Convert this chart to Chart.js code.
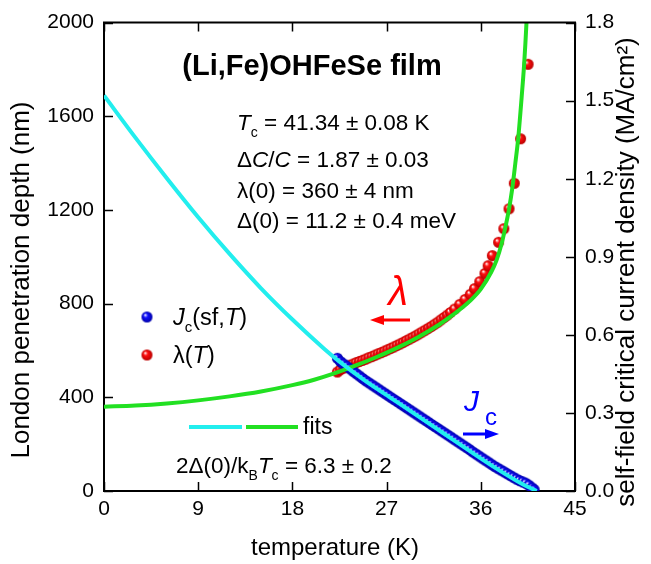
<!DOCTYPE html>
<html><head><meta charset="utf-8">
<script src="https://cdn.jsdelivr.net/npm/chart.js@4.4.1/dist/chart.umd.min.js"></script>
<style>html,body{margin:0;padding:0;background:#fff;}canvas{display:block;}</style>
</head><body>
<canvas id="c" width="651" height="564"></canvas>
<script>
const FONT = "'Liberation Sans', Arial, sans-serif";

// tick labels
const tempTicks = [0, 9, 18, 27, 36, 45];
const lambdaTicks = [0, 400, 800, 1200, 1600, 2000];
const jcTicks = [0, 0.3, 0.6, 0.9, 1.2, 1.5, 1.8];

// lambda(T) data (nm)
const lambdaT = [22.3,22.6,22.9,23.2,23.5,23.8,24.1,24.4,24.7,25.0,25.3,25.6,25.9,26.2,26.5,26.8,27.1,27.4,27.7,28.0,
  28.3,28.6,28.9,29.2,29.5,29.8,30.1,30.4,30.7,31.0,31.3,31.6,31.9,32.2,32.5,32.8,33.1,33.5,34.0,34.5,35.0,35.4,35.9,
  36.4,36.7,37.1,37.7,38.2,38.7,39.2,39.8,40.52];
const lambdaVal = [508,518,525,531,537,542,548,553,558,563,569,574,580,586,591,597,603,609,615,622,
  628,635,642,649,656,663,671,679,687,695,703,712,721,731,741,751,762,777,797,818,840,864,894,
  929,962,1005,1062,1120,1205,1314,1504,1822];

// Jc(sf,T) data (MA/cm^2)
const jcT = [22.3,22.6,22.9,23.2,23.5,23.8,24.1,24.4,24.7,25.0,25.3,25.6,25.9,26.2,26.5,26.8,27.1,27.4,27.7,28.0,
  28.3,28.6,28.9,29.2,29.5,29.8,30.1,30.4,30.7,31.0,31.3,31.6,31.9,32.2,32.5,32.8,33.1,33.4,33.7,34.0,
  34.3,34.6,34.9,35.2,35.5,35.8,36.1,36.4,36.7,37.0,37.3,37.6,37.9,38.2,38.5,38.8,39.1,39.4,39.7,40.0,
  40.3,40.6,40.9,41.1];
const jcVal = [0.510,0.497,0.488,0.479,0.470,0.460,0.451,0.442,0.433,0.424,0.416,0.408,0.400,0.392,0.384,0.376,0.368,0.360,0.352,0.344,
  0.336,0.328,0.320,0.312,0.304,0.296,0.288,0.280,0.272,0.264,0.256,0.248,0.240,0.232,0.224,0.216,0.208,0.200,0.192,0.184,
  0.176,0.168,0.160,0.151,0.143,0.135,0.127,0.119,0.111,0.103,0.095,0.088,0.081,0.074,0.067,0.060,0.053,0.046,0.040,0.035,
  0.030,0.022,0.012,0.005];

// fit curves
const lambdaFitT = [0,3,6,9,12,15,18,20,22,24,26,28,30,32,33,34,35,36,37,37.5,38,38.3,38.7,39.0,39.3,39.57,39.9,40.14,40.36,40.6];
const lambdaFitVal = [360,365,374,387,404,425,452,474,502,535,571,611,657,710,741,775,813,862,935,985,1058,1116,1205,1290,1400,1504,1680,1822,1996,2250];
const jcFitT = [0,3,6,9,12,15,18,21,22.5,25,27.5,30,32.5,35,37.5,40,41.34];
const jcFitVal = [1.52,1.358,1.202,1.052,0.911,0.779,0.659,0.548,0.497,0.422,0.355,0.288,0.220,0.152,0.086,0.026,0];

const toXY = (xs, ys) => xs.map((v, i) => ({x: v, y: ys[i]}));

function sphere(base, dark, r) {
  const s = Math.ceil(r * 2) + 2;
  const c = document.createElement('canvas');
  c.width = s; c.height = s;
  const g = c.getContext('2d');
  const cx = s / 2, cy = s / 2;
  const grad = g.createRadialGradient(cx - r * 0.35, cy - r * 0.4, r * 0.05, cx, cy, r);
  grad.addColorStop(0, '#ffffff');
  grad.addColorStop(0.35, base);
  grad.addColorStop(1, dark);
  g.fillStyle = grad;
  g.beginPath(); g.arc(cx, cy, r, 0, Math.PI * 2); g.fill();
  return c;
}
const redBall = sphere('#ff1010', '#b80000', 5.5);
const blueBall = sphere('#1010ff', '#0000a8', 5.5);

function runs(ctx, x, y, parts, color) {
  let cx = x;
  ctx.fillStyle = color || '#000';
  ctx.textAlign = 'left';
  ctx.textBaseline = 'alphabetic';
  for (const p of parts) {
    ctx.font = `${p.i ? 'italic ' : ''}${p.b ? 'bold ' : ''}${p.s || 22.5}px ${FONT}`;
    ctx.fillText(p.t, (p.x !== undefined ? p.x : cx), y + (p.dy || 0));
    cx = (p.x !== undefined ? p.x : cx) + ctx.measureText(p.t).width;
  }
}

function arrow(ctx, x1, x2, y, color) {
  const dir = Math.sign(x2 - x1);
  ctx.strokeStyle = color; ctx.fillStyle = color; ctx.lineWidth = 3;
  ctx.beginPath(); ctx.moveTo(x1, y); ctx.lineTo(x2 - dir * 10, y); ctx.stroke();
  ctx.beginPath(); ctx.moveTo(x2, y); ctx.lineTo(x2 - dir * 14, y - 5); ctx.lineTo(x2 - dir * 14, y + 5); ctx.closePath(); ctx.fill();
}

const deco = {
  id: 'deco',
  afterDraw(chart) {
    const {ctx, chartArea: a, scales} = chart;
    const {x, y, y2} = scales;
    ctx.save();
    ctx.strokeStyle = '#000'; ctx.lineWidth = 2;
    ctx.beginPath(); ctx.moveTo(a.left - 1, a.top); ctx.lineTo(a.right + 1, a.top); ctx.stroke();
    ctx.lineWidth = 1.5;
    ctx.beginPath();
    x.ticks.forEach(t => { const px = Math.round(x.getPixelForValue(t.value)) + 0.5;
      ctx.moveTo(px, a.bottom); ctx.lineTo(px, a.bottom - 9);
      ctx.moveTo(px, a.top); ctx.lineTo(px, a.top + 9); });
    y.ticks.forEach(t => { const py = Math.round(y.getPixelForValue(t.value)) + 0.5;
      ctx.moveTo(a.left, py); ctx.lineTo(a.left + 9, py); });
    y2.ticks.forEach(t => { const py = Math.round(y2.getPixelForValue(t.value)) + 0.5;
      ctx.moveTo(a.right, py); ctx.lineTo(a.right - 9, py); });
    ctx.stroke();

    // axis titles
    ctx.fillStyle = '#000';
    ctx.textAlign = 'center'; ctx.textBaseline = 'middle';
    ctx.font = `24px ${FONT}`;
    ctx.fillText('temperature (K)', 335, 548);
    ctx.font = `26px ${FONT}`;
    ctx.save(); ctx.translate(22, 280); ctx.rotate(-Math.PI / 2);
    ctx.fillText('London penetration depth (nm)', 0, 0); ctx.restore();
    ctx.save(); ctx.translate(627, 272); ctx.rotate(-Math.PI / 2);
    ctx.fillText('self-field critical current density (MA/cm\u00B2)', 0, 0); ctx.restore();

    // title
    ctx.font = `bold 29px ${FONT}`;
    ctx.fillText('(Li,Fe)OHFeSe film', 312, 67);

    // parameters
    runs(ctx, 237, 130, [{t: 'T', i: 1}, {t: 'c', s: 14, dy: 7}, {t: ' = 41.34 \u00B1 0.08 K'}]);
    runs(ctx, 237, 166.5, [{t: '\u0394'}, {t: 'C', i: 1}, {t: '/'}, {t: 'C', i: 1}, {t: ' = 1.87 \u00B1 0.03'}]);
    runs(ctx, 237, 198, [{t: '\u03BB(0) = 360 \u00B1 4 nm'}]);
    runs(ctx, 237, 227.5, [{t: '\u0394(0) = 11.2 \u00B1 0.4 meV'}]);

    // legend
    ctx.drawImage(blueBall, 147 - blueBall.width / 2, 317 - blueBall.height / 2);
    ctx.drawImage(redBall, 147 - redBall.width / 2, 355 - redBall.height / 2);
    runs(ctx, 173, 325, [{t: 'J', i: 1, s: 23.5}, {t: 'c', s: 15, dy: 7}, {t: '(sf,', s: 23.5}, {t: 'T', i: 1, s: 23.5}, {t: ')', s: 23.5}]);
    runs(ctx, 173, 363, [{t: '\u03BB(', s: 23.5}, {t: 'T', i: 1, s: 23.5}, {t: ')', s: 23.5}]);
    ctx.lineWidth = 4;
    ctx.strokeStyle = '#22eeee';
    ctx.beginPath(); ctx.moveTo(189, 427); ctx.lineTo(242, 427); ctx.stroke();
    ctx.strokeStyle = '#22e022';
    ctx.beginPath(); ctx.moveTo(246, 427); ctx.lineTo(298, 427); ctx.stroke();
    runs(ctx, 303, 434, [{t: 'fits', s: 23}]);
    runs(ctx, 176, 473, [{t: '2\u0394(0)/k'}, {t: 'B', s: 14, dy: 7}, {t: 'T', i: 1}, {t: 'c', s: 14, dy: 7}, {t: ' = 6.3 \u00B1 0.2'}]);

    // lambda label & arrow
    ctx.font = `italic 40px ${FONT}`;
    ctx.fillStyle = '#ff0000';
    ctx.textAlign = 'center'; ctx.textBaseline = 'alphabetic';
    ctx.fillText('\u03BB', 398, 305);
    arrow(ctx, 410, 370, 320, '#ff0000');
    // Jc label & arrow
    runs(ctx, 464, 411, [{t: 'J', i: 1, s: 30}, {t: 'c', s: 24, dy: 14, x: 485}], '#0000ff');
    arrow(ctx, 463, 499, 434, '#0000ff');
    ctx.restore();
  }
};

new Chart(document.getElementById('c'), {
  type: 'scatter',
  data: {
    datasets: [
      {label: 'Jc fit', data: toXY(jcFitT, jcFitVal), yAxisID: 'y2', showLine: true, borderColor: '#22eeee',
       borderWidth: 4, pointRadius: 0, cubicInterpolationMode: 'monotone', fill: false},
      {label: 'lambda fit', data: toXY(lambdaFitT, lambdaFitVal), yAxisID: 'y', showLine: true, borderColor: '#22e022',
       borderWidth: 4, pointRadius: 0, cubicInterpolationMode: 'monotone', fill: false},
      {label: 'Jc(sf,T)', data: toXY(jcT, jcVal), yAxisID: 'y2', pointStyle: blueBall, pointRadius: 5.5},
      {label: 'lambda(T)', data: toXY(lambdaT, lambdaVal), yAxisID: 'y', pointStyle: redBall, pointRadius: 5.5}
    ]
  },
  options: {
    responsive: false, devicePixelRatio: 1, animation: false,
    layout: {padding: {top: 19, left: 0, right: 0, bottom: 0}},
    plugins: {legend: {display: false}, tooltip: {enabled: false}},
    scales: {
      x: {type: 'linear', min: 0, max: 45,
        afterBuildTicks: s => { s.ticks = tempTicks.map(v => ({value: v})); },
        afterFit: s => { s.height = 73; },
        grid: {display: false, drawTicks: false},
        border: {display: true, color: '#000', width: 2},
        ticks: {color: '#000', font: {family: FONT, size: 21}, padding: 6, maxRotation: 0, callback: v => String(v)}},
      y: {type: 'linear', position: 'left', min: 0, max: 2000,
        afterBuildTicks: s => { s.ticks = lambdaTicks.map(v => ({value: v})); },
        afterFit: s => { s.width = 104; },
        grid: {display: false, drawTicks: false},
        border: {display: true, color: '#000', width: 2},
        ticks: {color: '#000', font: {family: FONT, size: 21}, padding: 10, callback: v => String(v)}},
      y2: {type: 'linear', position: 'right', min: 0, max: 1.8,
        afterBuildTicks: s => { s.ticks = jcTicks.map(v => ({value: v})); },
        afterFit: s => { s.width = 76; },
        grid: {display: false, drawTicks: false},
        border: {display: true, color: '#000', width: 2},
        ticks: {color: '#000', font: {family: FONT, size: 21}, padding: 10, callback: v => Number(v).toFixed(1)}}
    }
  },
  plugins: [deco]
});
</script>
</body></html>
